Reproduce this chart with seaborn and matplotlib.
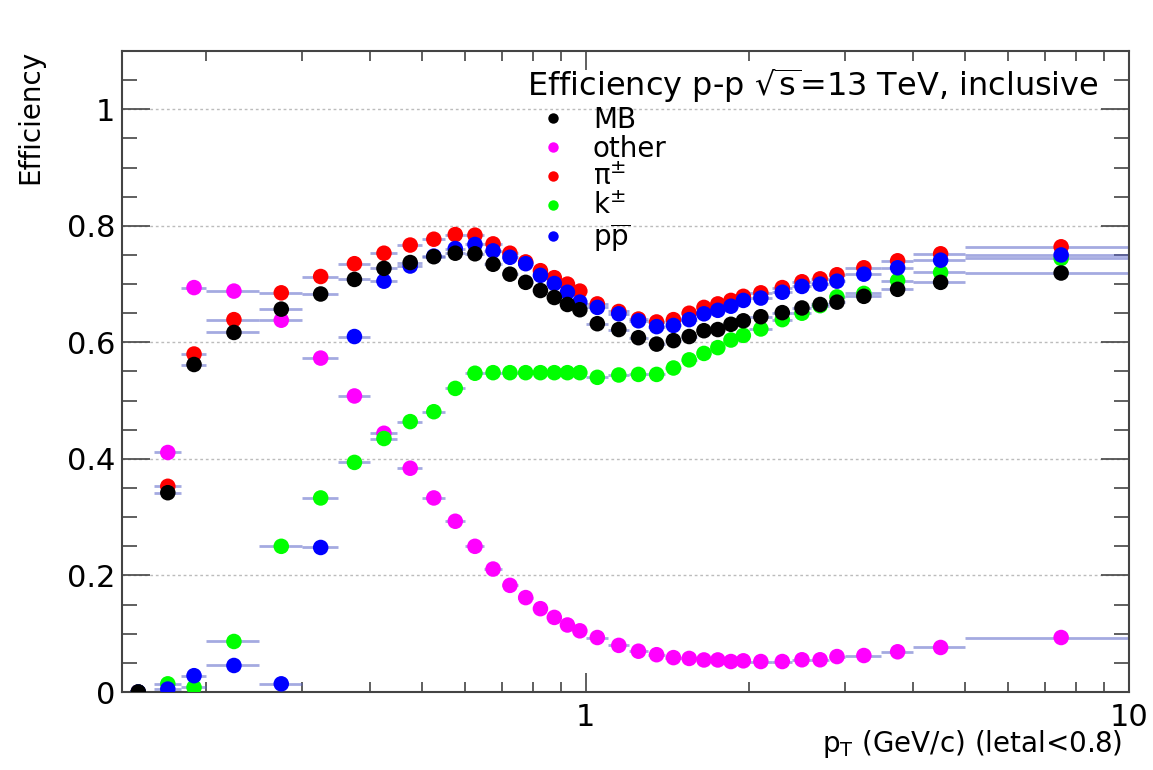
import numpy as np
import pandas as pd
import matplotlib
matplotlib.use("Agg")
import matplotlib.pyplot as plt
import seaborn as sns
from matplotlib.ticker import FixedLocator, MultipleLocator, FuncFormatter, NullFormatter
from matplotlib.lines import Line2D

# ---------------- data ----------------
pt_edges = [0.14, 0.16, 0.18, 0.20, 0.25, 0.30, 0.35, 0.40, 0.45, 0.50, 0.55,
            0.60, 0.65, 0.70, 0.75, 0.80, 0.85, 0.90, 0.95, 1.00, 1.1, 1.2,
            1.3, 1.4, 1.5, 1.6, 1.7, 1.8, 1.9, 2.0, 2.2, 2.4, 2.6, 2.8, 3.0,
            3.5, 4.0, 5.0, 10.0]

eff_MB = [0.0, 0.342, 0.562, 0.617, 0.657, 0.683, 0.708, 0.727, 0.737, 0.747,
          0.753, 0.752, 0.734, 0.717, 0.703, 0.689, 0.677, 0.665, 0.656, 0.632,
          0.622, 0.608, 0.597, 0.603, 0.610, 0.620, 0.622, 0.631, 0.637, 0.644,
          0.651, 0.659, 0.665, 0.669, 0.679, 0.691, 0.703, 0.719]

eff_other = [0.0, 0.411, 0.694, 0.688, 0.638, 0.573, 0.508, 0.444, 0.384, 0.333,
             0.293, 0.250, 0.211, 0.183, 0.162, 0.143, 0.128, 0.115, 0.105, 0.0935,
             0.080, 0.070, 0.064, 0.059, 0.0576, 0.055, 0.055, 0.0523, 0.0535, 0.0523,
             0.0523, 0.0553, 0.0553, 0.0608, 0.0626, 0.069, 0.0764, 0.0935]

eff_pi = [0.0, 0.353, 0.580, 0.639, 0.685, 0.713, 0.735, 0.753, 0.767, 0.777,
          0.785, 0.784, 0.769, 0.753, 0.738, 0.723, 0.711, 0.700, 0.688, 0.666,
          0.653, 0.640, 0.635, 0.639, 0.650, 0.660, 0.666, 0.672, 0.679, 0.685,
          0.694, 0.704, 0.709, 0.716, 0.728, 0.740, 0.752, 0.764]

eff_k = [0.0, 0.014, 0.008, 0.0867, 0.250, 0.333, 0.394, 0.435, 0.464, 0.481,
         0.521, 0.547, 0.548, 0.548, 0.548, 0.548, 0.548, 0.548, 0.548, 0.540,
         0.544, 0.545, 0.545, 0.556, 0.570, 0.581, 0.591, 0.604, 0.612, 0.623,
         0.639, 0.650, 0.663, 0.678, 0.684, 0.706, 0.720, 0.744]

eff_p = [0.0, 0.005, 0.028, 0.0455, 0.014, 0.248, 0.610, 0.705, 0.731, 0.748,
         0.761, 0.768, 0.757, 0.746, 0.735, 0.715, 0.701, 0.686, 0.669, 0.660,
         0.649, 0.637, 0.627, 0.629, 0.639, 0.649, 0.655, 0.662, 0.672, 0.676,
         0.686, 0.696, 0.700, 0.705, 0.717, 0.728, 0.741, 0.750]

legend_labels = ["MB", "other", "π$^{\\pm}$", "k$^{\\pm}$", "p$\\overline{\\mathrm{p}}$"]
series_colors = {"MB": "#000000", "other": "#ff00ff", "pi": "#ff0000",
                 "k": "#00ff00", "p": "#0000ff"}
title_text = r"Efficiency p-p $\sqrt{\mathrm{s}}$=13 TeV, inclusive"
xlabel_text = r"p$_{\mathrm{T}}$ (GeV/c) (letal<0.8)"
ylabel_text = "Efficiency"

# ---------------- table ----------------
edges = np.array(pt_edges)
lo, hi = edges[:-1], edges[1:]
centers = 0.5 * (lo + hi)
series = {"other": eff_other, "pi": eff_pi, "k": eff_k, "p": eff_p, "MB": eff_MB}  # draw order
frames = []
for name, vals in series.items():
    frames.append(pd.DataFrame({"pt": centers, "lo": lo, "hi": hi,
                                "eff": vals, "species": name}))
df = pd.concat(frames, ignore_index=True)

# ---------------- figure ----------------
sns.set_theme(style="white")
plt.rcParams["font.family"] = ["DejaVu Sans"]
plt.rcParams["mathtext.fontset"] = "dejavusans"
plt.rcParams["text.color"] = "black"
plt.rcParams["axes.labelcolor"] = "black"
plt.rcParams["xtick.labelcolor"] = "black"
plt.rcParams["ytick.labelcolor"] = "black"

W, H = 1153, 770
fig = plt.figure(figsize=(W / 100, H / 100), dpi=100)
ax_l, ax_r, ax_t, ax_b = 122, 1129, 51, 692
ax = fig.add_axes([ax_l / W, 1 - ax_b / H, (ax_r - ax_l) / W, (ax_b - ax_t) / H])

# horizontal bin-width bars
for name in series:
    sub = df[df.species == name]
    ax.hlines(sub["eff"], sub["lo"], sub["hi"], color="#5a64c8", lw=2.0,
              alpha=0.55, zorder=2)

sns.scatterplot(data=df, x="pt", y="eff", hue="species",
                palette=series_colors, s=125, edgecolor="none", linewidth=0,
                legend=False, ax=ax, zorder=3)

ax.set_xscale("log")
ax.set_xlim(0.14, 10)
ax.set_ylim(0, 1.1)

ax.xaxis.set_major_locator(FixedLocator([1, 10]))
ax.xaxis.set_major_formatter(FuncFormatter(lambda v, p: f"{v:g}"))
ax.xaxis.set_minor_locator(FixedLocator([0.2, 0.3, 0.4, 0.5, 0.6, 0.7, 0.8, 0.9,
                                         2, 3, 4, 5, 6, 7, 8, 9]))
ax.xaxis.set_minor_formatter(NullFormatter())
ax.yaxis.set_major_locator(MultipleLocator(0.2))
ax.yaxis.set_major_formatter(FuncFormatter(lambda v, p: f"{v:g}"))
ax.yaxis.set_minor_locator(MultipleLocator(0.05))

ax.tick_params(axis="y", which="major", direction="in", length=20, width=1.2,
               left=True, right=True, labelsize=22, pad=5, color="#444444",
               labelcolor="black")
ax.tick_params(axis="y", which="minor", direction="in", length=11, width=1.2,
               left=True, right=True, color="#444444")
ax.tick_params(axis="x", which="major", direction="in", length=14, width=1.2,
               bottom=True, top=True, labelsize=22, pad=8, color="#444444",
               labelcolor="black")
ax.tick_params(axis="x", which="minor", direction="in", length=7, width=1.2,
               bottom=True, top=True, color="#444444")

ax.yaxis.grid(True, which="major", linestyle=(0, (2, 2)), color="#bcbcbc", lw=1.0)
ax.xaxis.grid(False)
for s in ax.spines.values():
    s.set_color("#444444")
    s.set_linewidth(1.5)
    s.set_visible(True)

ax.set_xlabel(xlabel_text, fontsize=20, color="black")
ax.xaxis.set_label_coords((1122 - ax_l) / (ax_r - ax_l), (ax_b - 744) / (ax_b - ax_t))
ax.xaxis.label.set_ha("right")
ax.xaxis.label.set_va("center")

ax.set_ylabel(ylabel_text, fontsize=20, color="black")
ylab = ax.yaxis.label
ylab.set_rotation_mode("default")
ax.yaxis.set_label_coords((30 - ax_l) / (ax_r - ax_l), (ax_b - 50) / (ax_b - ax_t))
ylab.set_ha("center")
ylab.set_va("top")

order = ["MB", "other", "pi", "k", "p"]
handles = [Line2D([], [], marker="o", ls="", color=series_colors[n],
                  markeredgewidth=0, markersize=7.5) for n in order]
leg = ax.legend(handles, legend_labels, title=title_text, loc="upper left",
                bbox_to_anchor=(527 / W, 1 - 66 / H), bbox_transform=fig.transFigure,
                frameon=False, fontsize=20, title_fontsize=23, borderpad=0,
                borderaxespad=0, handlelength=1.87, handletextpad=0.5,
                labelspacing=0.03)
leg._legend_box.align = "left"
for t in leg.get_texts():
    t.set_color("black")
leg.get_title().set_color("black")

fig.savefig("out.png", dpi=100, facecolor="white")
